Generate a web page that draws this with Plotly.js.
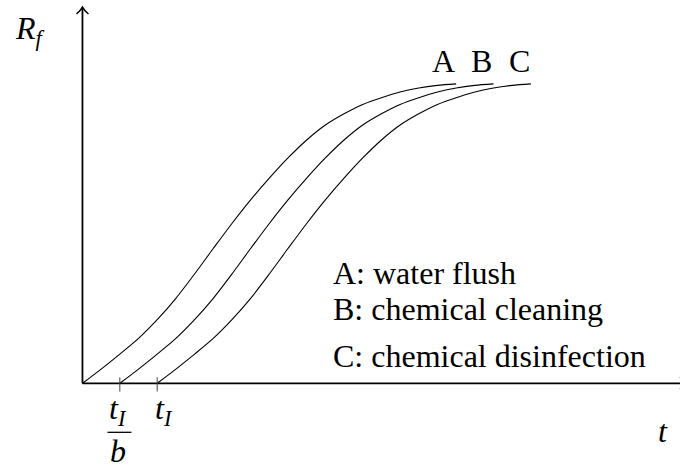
<!DOCTYPE html>
<html>
<head>
<meta charset="utf-8">
<script src="https://cdn.plot.ly/plotly-3.0.1.min.js"></script>
<style>
  html, body { margin: 0; padding: 0; background: #fff; }
  #chart { width: 680px; height: 468px; }
</style>
</head>
<body>
<div id="chart"></div>
<script>
// Fouling resistance R_f over time for three cleaning strategies
const xA = [0, 0.5, 1, 1.5, 2, 2.5, 3, 3.5, 4, 4.5, 5, 5.5, 6, 6.5, 7, 7.5, 8, 8.5, 9, 9.5, 10];
const yA = [0, 0.38, 0.78, 1.20, 1.70, 2.27, 2.92, 3.60, 4.27, 4.90, 5.48, 6.02, 6.50, 6.90, 7.20, 7.45, 7.63, 7.78, 7.89, 7.96, 8.00];

const xB = [1, 1.5, 2, 2.5, 3, 3.5, 4, 4.5, 5, 5.5, 6, 6.5, 7, 7.5, 8, 8.5, 9, 9.5, 10, 10.5, 11];
const yB = [0, 0.38, 0.78, 1.20, 1.70, 2.27, 2.92, 3.60, 4.27, 4.90, 5.48, 6.02, 6.50, 6.90, 7.20, 7.45, 7.63, 7.78, 7.89, 7.96, 8.00];

const xC = [2, 2.5, 3, 3.5, 4, 4.5, 5, 5.5, 6, 6.5, 7, 7.5, 8, 8.5, 9, 9.5, 10, 10.5, 11, 11.5, 12];
const yC = [0, 0.38, 0.78, 1.20, 1.70, 2.27, 2.92, 3.60, 4.27, 4.90, 5.48, 6.02, 6.50, 6.90, 7.20, 7.45, 7.63, 7.78, 7.89, 7.96, 8.00];

const curveNames = ['A', 'B', 'C'];
const legendLines = ['A: water flush', 'B: chemical cleaning', 'C: chemical disinfection'];
const tickVals = [1, 2];

const SERIF = '"Liberation Serif", "DejaVu Serif", serif';
const FS = 32;

const X_RANGE = [-0.2, 15.99];
const Y_RANGE = [-0.5, 10.24];
// data units -> paper fraction, for text that sits outside the axis ranges
const px = x => (x - X_RANGE[0]) / (X_RANGE[1] - X_RANGE[0]);
const py = y => (y - Y_RANGE[0]) / (Y_RANGE[1] - Y_RANGE[0]);

const curve = (x, y, name) => ({
  x: x, y: y, name: name, type: 'scatter', mode: 'lines',
  line: { color: '#000', width: 1.1, shape: 'spline', smoothing: 0.8 },
  hoverinfo: 'skip'
});

const data = [curve(xA, yA, 'A'), curve(xB, yB, 'B'), curve(xC, yC, 'C')];

// axes drawn as arrows, TikZ style
const shapes = [
  { type: 'line', x0: 0, y0: 0, x1: 0, y1: 10.04, line: { color: '#000', width: 1.8 } },
  { type: 'path', path: 'M -0.16,9.866 Q -0.05,9.96 0,10.05 Q 0.05,9.96 0.16,9.866',
    line: { color: '#000', width: 1.5 } },
  { type: 'line', x0: 0, y0: 0, x1: 16.2, y1: 0, line: { color: '#000', width: 1.8 } },
  { type: 'path', path: 'M 15.99,0.16 Q 16.1,0.05 16.17,0 Q 16.1,-0.05 15.99,-0.16',
    line: { color: '#000', width: 1.5 } }
];
tickVals.forEach(v => shapes.push({
  type: 'line', x0: v, x1: v, y0: -0.22, y1: 0.16, line: { color: '#444', width: 1 }
}));
// fraction bar of t_I / b
shapes.push({ type: 'line', xref: 'paper', yref: 'paper',
  x0: px(0.67), x1: px(1.31), y0: py(-1.31), y1: py(-1.31), line: { color: '#000', width: 1.3 } });

const txt = (text, x, y, xanchor) => ({
  text: text, x: px(x), y: py(y), xref: 'paper', yref: 'paper', showarrow: false,
  xanchor: xanchor || 'center', yanchor: 'middle',
  font: { family: SERIF, size: FS, color: '#000' }
});

const annotations = [
  txt('<i>R</i><sub><i>f</i></sub>', -1.85, 9.42, 'left'),
  txt('<i>t</i>', 15.53, -1.28),
  txt('<i>t</i><sub><i>I</i></sub>', 2.17, -0.72),
  txt('<i>t</i><sub><i>I</i></sub>', 0.96, -0.72),
  txt('<i>b</i>', 0.96, -1.82)
];
const labelX = [9.65, 10.67, 11.69];
curveNames.forEach((n, i) => annotations.push(txt(n, labelX[i], 8.61)));
const legendY = [2.94, 1.98, 0.72];
legendLines.forEach((s, i) => annotations.push(txt(s, 6.66, legendY[i], 'left')));

const layout = {
  width: 680, height: 468,
  margin: { l: 74.52, r: 0, t: 0, b: 66.3, pad: 0 },
  paper_bgcolor: '#fff', plot_bgcolor: '#fff',
  showlegend: false,
  xaxis: { range: X_RANGE, visible: false, fixedrange: true },
  yaxis: { range: Y_RANGE, visible: false, fixedrange: true },
  shapes: shapes,
  annotations: annotations
};

Plotly.newPlot('chart', data, layout, { staticPlot: true, displayModeBar: false });
</script>
</body>
</html>
